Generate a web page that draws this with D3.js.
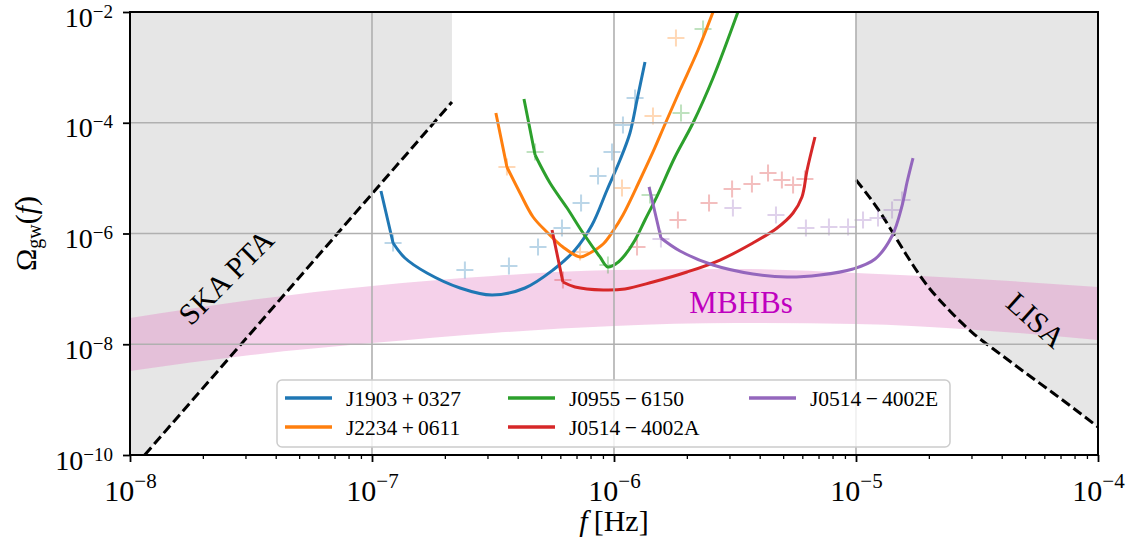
<!DOCTYPE html>
<html>
<head>
<meta charset="utf-8">
<script src="https://cdn.jsdelivr.net/npm/d3@7"></script>
<style>
body{margin:0;background:#fff;}
svg{display:block;font-family:"Liberation Serif","DejaVu Serif",serif;}
</style>
</head>
<body>
<svg id="chart" width="1134" height="545"></svg>
<script>
// ---- data ----
const xMajor = [1e-8, 1e-7, 1e-6, 1e-5, 1e-4];
const yMajor = [1e-10, 1e-8, 1e-6, 1e-4, 1e-2];

const pulsars = ["J1903+0327", "J2234+0611", "J0955\u22126150", "J0514\u22124002A", "J0514\u22124002E"];
const colors = ["#1f77b4", "#ff7f0e", "#2ca02c", "#d62728", "#9467bd"];

// sensitivity curves
const j1903F  = [1.089e-7, 1.222e-7, 1.368e-7, 1.687e-7, 2.311e-7, 3.133e-7, 4.287e-7, 5.597e-7, 6.90e-7, 8.11e-7, 9.36e-7, 1.059e-6, 1.164e-6, 1.245e-6, 1.343e-6];
const j1903Om = [5.85e-6, 6.73e-7, 3.61e-7, 1.935e-7, 1.037e-7, 7.75e-8, 1.037e-7, 2.19e-7, 5.04e-7, 1.423e-6, 6.11e-6, 2.124e-5, 6.53e-5, 2.576e-4, 1.25e-3];
const j2234F  = [3.25e-7, 3.61e-7, 4.09e-7, 4.63e-7, 5.28e-7, 6.15e-7, 7.24e-7, 7.96e-7, 9.02e-7, 9.91e-7, 1.089e-6, 1.28e-6, 1.449e-6, 1.626e-6, 1.874e-6, 2.225e-6, 2.566e-6];
const j2234Om = [1.5e-4, 1.589e-5, 5.38e-6, 1.986e-6, 1.064e-6, 5.70e-7, 3.77e-7, 4.45e-7, 6.46e-7, 1.11e-6, 2.158e-6, 9.25e-6, 2.965e-5, 9.49e-5, 3.9e-4, 2.06e-3, 1.0e-2];
const j0955F  = [4.246e-7, 4.72e-7, 5.44e-7, 6.40e-7, 7.45e-7, 8.75e-7, 9.44e-7, 1.029e-6, 1.11e-6, 1.222e-6, 1.343e-6, 1.507e-6, 1.786e-6, 2.12e-6, 2.566e-6, 3.251e-6];
const j0955Om = [2.685e-4, 2.618e-5, 8.17e-6, 2.884e-6, 1.02e-6, 3.77e-7, 2.483e-7, 2.93e-7, 4.09e-7, 7.63e-7, 1.754e-6, 4.75e-6, 2.405e-5, 9.89e-5, 6.43e-4, 1.0e-2];
const j0514aF  = [5.545e-7, 6.15e-7, 6.90e-7, 9.02e-7, 1.11e-6, 1.449e-6, 2.004e-6, 2.742e-6, 3.75e-6, 4.72e-6, 5.495e-6, 5.98e-6, 6.28e-6, 6.77e-6];
const j0514aOm = [1.156e-6, 1.33e-7, 1.081e-7, 9.55e-8, 9.95e-8, 1.33e-7, 2.018e-7, 3.32e-7, 6.73e-7, 1.257e-6, 2.344e-6, 4.56e-6, 1.403e-5, 5.53e-5];
const j0514eF  = [1.396e-6, 1.563e-6, 1.874e-6, 2.566e-6, 3.75e-6, 5.19e-6, 7.10e-6, 9.72e-6, 1.199e-5, 1.409e-5, 1.549e-5, 1.626e-5, 1.72e-5];
const j0514eOm = [6.92e-6, 8.30e-7, 4.83e-7, 2.70e-7, 1.858e-7, 1.637e-7, 1.782e-7, 2.286e-7, 3.46e-7, 9.02e-7, 3.14e-6, 8.51e-6, 2.307e-5];

// discrete points (+ markers)
const j1903PtF  = [1.222e-7, 2.42e-7, 3.68e-7, 4.853e-7, 6.095e-7, 7.31e-7, 8.59e-7, 9.81e-7, 1.089e-6, 1.222e-6];
const j1903PtOm = [6.73e-7, 2.19e-7, 2.59e-7, 5.70e-7, 1.257e-6, 3.556e-6, 1.091e-5, 2.965e-5, 9.1e-5, 2.8e-4];
const j2234PtF  = [3.61e-7, 7.24e-7, 1.079e-6, 1.449e-6, 1.803e-6];
const j2234PtOm = [1.589e-5, 4.63e-7, 6.63e-6, 1.324e-4, 3.39e-3];
const j0955PtF  = [4.72e-7, 9.44e-7, 1.409e-6, 1.892e-6, 2.333e-6];
const j0955PtOm = [2.965e-5, 2.70e-7, 4.955e-6, 1.5e-4, 4.93e-3];
const j0514aPtF  = [6.15e-7, 1.245e-6, 1.837e-6, 2.47e-6, 3.076e-6, 3.715e-6, 4.33e-6, 4.94e-6, 5.495e-6, 6.15e-6];
const j0514aPtOm = [1.445e-7, 5.70e-7, 1.754e-6, 3.556e-6, 6.37e-6, 7.83e-6, 1.239e-5, 9.25e-6, 7.51e-6, 9.64e-6];
const j0514ePtF  = [1.563e-6, 3.10e-6, 4.67e-6, 6.21e-6, 7.73e-6, 9.27e-6, 1.069e-5, 1.233e-5, 1.409e-5, 1.549e-5];
const j0514ePtOm = [7.96e-7, 2.884e-6, 2.158e-6, 1.257e-6, 1.31e-6, 1.31e-6, 1.754e-6, 1.905e-6, 2.65e-6, 4.03e-6];

// SKA PTA and LISA limits
const skaF  = [1.15e-8, 2.14e-7];
const skaOm = [1.0e-10, 2.37e-4];
const lisaF  = [1.0e-5, 1.256e-5, 1.422e-5, 1.626e-5, 1.892e-5, 2.443e-5, 3.04e-5, 3.94e-5, 5.09e-5, 6.52e-5, 7.89e-5, 1.0e-4];
const lisaOm = [9.25e-6, 2.445e-6, 1.02e-6, 3.93e-7, 1.45e-7, 3.98e-8, 1.596e-8, 6.67e-9, 2.90e-9, 1.318e-9, 7.06e-10, 3.21e-10];

// MBHB band
const mbhbF  = [1e-8, 3.16e-8, 1e-7, 3.16e-7, 1e-6, 3.16e-6, 1e-5, 3.16e-5, 1e-4];
const mbhbHi = [2.98e-8, 6.3e-8, 1.13e-7, 1.71e-7, 2.19e-7, 2.29e-7, 1.94e-7, 1.51e-7, 1.08e-7];
const mbhbLo = [3.29e-9, 6.4e-9, 1.05e-8, 1.6e-8, 2.14e-8, 2.42e-8, 2.32e-8, 1.81e-8, 1.19e-8];

// ---- chart ----
const W = 1134, H = 545;
const margin = {left: 130, right: 36, top: 12, bottom: 90};
const svg = d3.select("#chart");

const x = d3.scaleLog().domain([1e-8, 1e-4]).range([margin.left, W - margin.right]);
const y = d3.scaleLog().domain([1e-10, 1e-2]).range([H - margin.bottom, margin.top]);

svg.append("defs").append("clipPath").attr("id", "plotclip")
	.append("rect")
	.attr("x", margin.left).attr("y", margin.top)
	.attr("width", x.range()[1] - margin.left)
	.attr("height", y.range()[0] - margin.top);

const plot = svg.append("g").attr("clip-path", "url(#plotclip)");
const zip = (a, b) => a.map((v, i) => [v, b[i]]);
const smoothCurve = d3.curveCatmullRom.alpha(0.5);

// grey excluded regions
const skaPoly = [[1e-8, 1e-2], [skaF[1], 1e-2], [skaF[1], skaOm[1]], [skaF[0], skaOm[0]], [skaF[0], 1e-10], [1e-8, 1e-10]];
plot.append("path")
	.attr("d", d3.line().x(d => x(d[0])).y(d => y(d[1]))(skaPoly) + "Z")
	.attr("fill", "#808080").attr("fill-opacity", 0.2);

const lisaPts = zip(lisaF, lisaOm);
plot.append("path")
	.attr("d", d3.area().curve(d3.curveMonotoneX)
		.x(d => x(d[0])).y0(y(1e-2)).y1(d => y(d[1]))(lisaPts))
	.attr("fill", "#808080").attr("fill-opacity", 0.2);

// MBHB band
plot.append("path")
	.attr("d", d3.area().curve(d3.curveMonotoneX)
		.x((d, i) => x(mbhbF[i]))
		.y0((d, i) => y(mbhbLo[i]))
		.y1((d, i) => y(mbhbHi[i]))(mbhbF))
	.attr("fill", "#e377c2").attr("fill-opacity", 0.34);

// grid
const grid = svg.append("g").attr("stroke", "#b0b0b0").attr("stroke-width", 1.6);
grid.selectAll("line.gx").data(xMajor.slice(1, -1)).enter().append("line")
	.attr("x1", d => x(d)).attr("x2", d => x(d))
	.attr("y1", y.range()[1]).attr("y2", y.range()[0]);
grid.selectAll("line.gy").data(yMajor.slice(1, -1)).enter().append("line")
	.attr("y1", d => y(d)).attr("y2", d => y(d))
	.attr("x1", x.range()[0]).attr("x2", x.range()[1]);

// dashed limit curves
plot.append("path")
	.attr("d", d3.line().x(d => x(d[0])).y(d => y(d[1]))(zip(skaF, skaOm)))
	.attr("fill", "none").attr("stroke", "#000").attr("stroke-width", 3)
	.attr("stroke-dasharray", "10,4.5");
plot.append("path")
	.attr("d", d3.line().curve(d3.curveMonotoneX).x(d => x(d[0])).y(d => y(d[1]))(lisaPts))
	.attr("fill", "none").attr("stroke", "#000").attr("stroke-width", 3)
	.attr("stroke-dasharray", "10,4.5");

// markers
const ptSets = [
	zip(j1903PtF, j1903PtOm), zip(j2234PtF, j2234PtOm), zip(j0955PtF, j0955PtOm),
	zip(j0514aPtF, j0514aPtOm), zip(j0514ePtF, j0514ePtOm)
];
const arm = 8.5;
ptSets.forEach((pts, k) => {
	const g = plot.append("g").attr("stroke", colors[k]).attr("stroke-opacity", 0.3).attr("stroke-width", 2);
	g.selectAll("path").data(pts).enter().append("path")
		.attr("d", d => {
			const px = x(d[0]), py = y(d[1]);
			return "M" + (px - arm) + "," + py + "H" + (px + arm) + "M" + px + "," + (py - arm) + "V" + (py + arm);
		});
});

// sensitivity curves: straight first leg, smooth after the kink
const curveSets = [
	zip(j1903F, j1903Om), zip(j2234F, j2234Om), zip(j0955F, j0955Om),
	zip(j0514aF, j0514aOm), zip(j0514eF, j0514eOm)
];
const leg = d3.line().x(d => x(d[0])).y(d => y(d[1]));
const smooth = d3.line().curve(smoothCurve).x(d => x(d[0])).y(d => y(d[1]));
curveSets.forEach((pts, k) => {
	plot.append("path")
		.attr("d", leg(pts.slice(0, 2)) + smooth(pts.slice(1)))
		.attr("fill", "none").attr("stroke", colors[k]).attr("stroke-width", 3)
		.attr("stroke-linejoin", "round");
});

// region labels
svg.append("text")
	.attr("transform", "translate(" + x(2.49e-8) + "," + y(1.64e-7) + ") rotate(-45)")
	.attr("text-anchor", "middle").attr("dy", "0.35em")
	.attr("font-size", 30).text("SKA PTA");
svg.append("text")
	.attr("transform", "translate(" + x(5.55e-5) + "," + y(2.74e-8) + ") rotate(42)")
	.attr("text-anchor", "middle").attr("dy", "0.35em")
	.attr("font-size", 30).text("LISA");
svg.append("text")
	.attr("x", x(3.35e-6)).attr("y", y(5.8e-8)).attr("dy", "0.35em")
	.attr("text-anchor", "middle").attr("fill", "#bf00bf")
	.attr("font-size", 31).text("MBHBs");

// axes
const supLabel = (rise, size) => function(d) {
	const t = d3.select(this);
	const e = Math.round(Math.log10(d));
	t.text(null);
	t.append("tspan").text("10");
	t.append("tspan").attr("dy", -rise).attr("font-size", size).text("\u2212" + Math.abs(e));
};

const xMinor = x.ticks().filter(v => !xMajor.some(m => Math.abs(m - v) / m < 1e-6));
const xMinorAxis = svg.append("g").attr("transform", "translate(0," + y.range()[0] + ")")
	.call(d3.axisBottom(x).tickValues(xMinor).tickSize(4).tickSizeOuter(0).tickFormat(""));
const xAxis = svg.append("g").attr("transform", "translate(0," + y.range()[0] + ")")
	.call(d3.axisBottom(x).tickValues(xMajor).tickSize(7).tickSizeOuter(0));
xAxis.selectAll(".tick text").attr("y", 46).attr("dy", 0)
	.attr("font-size", 30).attr("font-family", "Liberation Serif").each(supLabel(13, 21));

const yAxis = svg.append("g").attr("transform", "translate(" + x.range()[0] + ",0)")
	.call(d3.axisLeft(y).tickValues(yMajor).tickSize(7).tickSizeOuter(0));
yAxis.selectAll(".tick text").attr("x", -17).attr("y", 14).attr("dy", 0)
	.attr("font-size", 28).attr("font-family", "Liberation Serif").each(supLabel(9, 19));

[xMinorAxis, xAxis, yAxis].forEach(a => {
	a.select(".domain").remove();
	a.selectAll(".tick line").attr("stroke", "#000").attr("stroke-width", 1.8);
});
xMinorAxis.selectAll(".tick line").attr("stroke-width", 1.3);

// frame
svg.append("rect")
	.attr("x", x.range()[0]).attr("y", y.range()[1])
	.attr("width", x.range()[1] - x.range()[0])
	.attr("height", y.range()[0] - y.range()[1])
	.attr("fill", "none").attr("stroke", "#000").attr("stroke-width", 2);

// axis titles
const xt = svg.append("text").attr("x", (x.range()[0] + x.range()[1]) / 2).attr("y", 531)
	.attr("text-anchor", "middle").attr("font-size", 30);
xt.append("tspan").attr("font-style", "italic").text("f");
xt.append("tspan").text("\u2009[Hz]");

const yt = svg.append("text")
	.attr("transform", "translate(36," + ((y.range()[0] + y.range()[1]) / 2) + ") rotate(-90)")
	.attr("text-anchor", "middle").attr("font-size", 30);
yt.append("tspan").text("\u03A9");
yt.append("tspan").attr("font-size", 20).attr("dy", 5).text("gw");
yt.append("tspan").attr("dy", -5).text("(");
yt.append("tspan").attr("font-style", "italic").text("f");
yt.append("tspan").text(")");

// legend (3 columns, filled column-wise)
const lg = svg.append("g").attr("transform", "translate(277,380)");
lg.append("rect").attr("width", 673).attr("height", 67).attr("rx", 5)
	.attr("fill", "#fff").attr("fill-opacity", 0.8)
	.attr("stroke", "#cccccc").attr("stroke-width", 1.5);
const colX = [8, 231, 472], rowY = [18, 47];
const items = lg.selectAll("g.item").data(pulsars).enter().append("g")
	.attr("transform", (d, i) => "translate(" + colX[Math.floor(i / 2)] + "," + rowY[i % 2] + ")");
items.append("line").attr("x1", 0).attr("x2", 47)
	.attr("stroke", (d, i) => colors[i]).attr("stroke-width", 3.5);
items.append("text").attr("x", 61).attr("dy", "0.35em").attr("font-size", 21.5)
	.text(d => d.replace(/([+\u2212])/, "\u2009$1\u2009"));
</script>
</body>
</html>
